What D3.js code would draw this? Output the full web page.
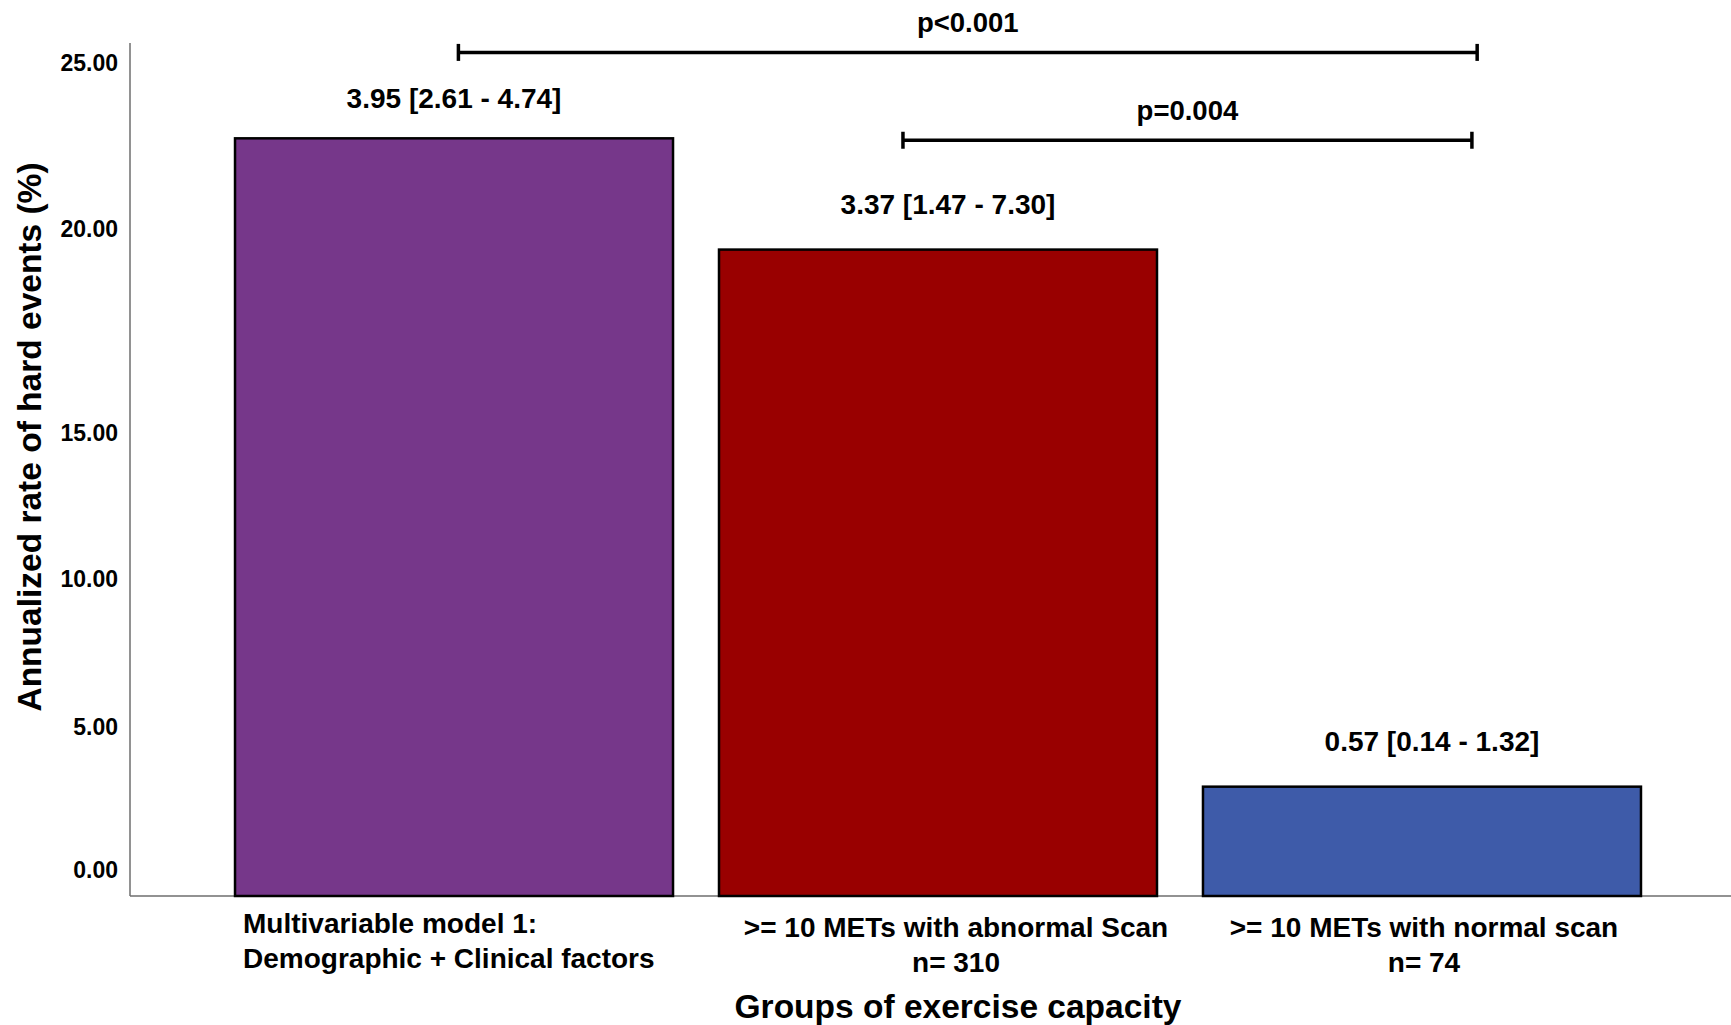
<!DOCTYPE html>
<html>
<head>
<meta charset="utf-8">
<script src="https://cdn.jsdelivr.net/npm/d3@7"></script>
<style>
  body { margin: 0; background: #fff; }
  text { font-family: "Liberation Sans", Arial, sans-serif; font-weight: bold; fill: #000; }
</style>
</head>
<body>
<script>
// data
var groupLines = [
  ["Multivariable model 1:", "Demographic + Clinical factors"],
  [">= 10 METs with abnormal Scan", "n= 310"],
  [">= 10 METs with normal scan", "n= 74"]
];
var rates = [3.95, 3.37, 0.57];
var ciLow = [2.61, 1.47, 0.14];
var ciHigh = [4.74, 7.30, 1.32];
var barColors = ["#76378a", "#990000", "#3e5ba9"];

// y tick labels and the rate value each one sits at
var tickLabels = ["0.00", "5.00", "10.00", "15.00", "20.00", "25.00"];
var tickAt = [0.136, 0.881, 1.653, 2.414, 3.478, 4.343];

var comparisons = [
  { from: 0, to: 2, label: "p<0.001" },
  { from: 1, to: 2, label: "p=0.004" }
];

var svgWidth = 1731;
var svgHeight = 1025;
var margin = { top: 43, right: -15, bottom: 129, left: 130 };
var width = svgWidth - margin.left - margin.right;
var height = svgHeight - margin.top - margin.bottom;

var svg = d3.select("body")
            .append("svg")
            .attr("width", svgWidth)
            .attr("height", svgHeight);

var chartGroup = svg.append("g")
                    .attr("transform", `translate(${margin.left}, ${margin.top})`);

var xScale = d3.scaleBand()
               .domain(d3.range(rates.length))
               .range([0, width])
               .paddingInner(0.095)
               .paddingOuter(0.217);

var yScale = d3.scaleLinear()
               .domain([0, 4.447])
               .range([height, 0]);

// axis lines (no tick marks)
chartGroup.append("line")
    .attr("x1", 0).attr("x2", 0)
    .attr("y1", 0).attr("y2", height)
    .attr("stroke", "#6e6e6e").attr("stroke-width", 1.5);

chartGroup.append("line")
    .attr("x1", 0).attr("x2", svgWidth)
    .attr("y1", height).attr("y2", height)
    .attr("stroke", "#6e6e6e").attr("stroke-width", 1.5);

chartGroup.selectAll(".ytick")
    .data(tickLabels)
    .enter()
    .append("text")
    .attr("class", "ytick")
    .attr("x", -12)
    .attr("y", (d, i) => yScale(tickAt[i]))
    .attr("dy", "0.36em")
    .attr("text-anchor", "end")
    .attr("font-size", 23)
    .text(d => d);

// bars
chartGroup.selectAll(".bar")
    .data(rates)
    .enter()
    .append("rect")
    .attr("class", "bar")
    .attr("x", (d, i) => xScale(i))
    .attr("y", d => yScale(d))
    .attr("width", xScale.bandwidth())
    .attr("height", d => height - yScale(d))
    .attr("fill", (d, i) => barColors[i])
    .attr("stroke", "#000")
    .attr("stroke-width", 2.5);

// value labels
chartGroup.selectAll(".vlabel")
    .data(rates)
    .enter()
    .append("text")
    .attr("class", "vlabel")
    .attr("x", (d, i) => xScale(i) + xScale.bandwidth() / 2 + (i === 0 ? 0 : 10))
    .attr("y", (d, i) => yScale(d) - (i === 0 ? 30 : 36))
    .attr("text-anchor", "middle")
    .attr("font-size", 28)
    .text((d, i) => `${d.toFixed(2)} [${ciLow[i].toFixed(2)} - ${ciHigh[i].toFixed(2)}]`);

// category labels under the axis
var catGroups = chartGroup.selectAll(".cat")
    .data(groupLines)
    .enter()
    .append("text")
    .attr("class", "cat")
    .attr("font-size", 28)
    .attr("text-anchor", (d, i) => i === 0 ? "start" : "middle")
    .attr("transform", (d, i) => {
        var cx = i === 0 ? xScale(i) + 8 : xScale(i) + xScale.bandwidth() / 2 + (i === 1 ? 18 : 2);
        return `translate(${cx}, ${height + (i === 0 ? 37 : 41)})`;
    });

catGroups.selectAll("tspan")
    .data(d => d)
    .enter()
    .append("tspan")
    .attr("x", 0)
    .attr("y", (d, j) => j * 35)
    .text(d => d);

// significance brackets
var bracketLayout = [
  { a: 0.51, b: 0.626, at: 4.398 },
  { a: 0.42, b: 0.614, at: 3.94 }
];

comparisons.forEach(function(c, k) {
    var lay = bracketLayout[k];
    var x1 = xScale(c.from) + lay.a * xScale.bandwidth();
    var x2 = xScale(c.to) + lay.b * xScale.bandwidth();
    var yy = yScale(lay.at);
    var g = chartGroup.append("g")
                      .attr("stroke", "#000")
                      .attr("stroke-width", 3.5);
    g.append("line").attr("x1", x1).attr("x2", x2).attr("y1", yy).attr("y2", yy);
    g.append("line").attr("x1", x1).attr("x2", x1).attr("y1", yy - 8.5).attr("y2", yy + 8.5);
    g.append("line").attr("x1", x2).attr("x2", x2).attr("y1", yy - 8.5).attr("y2", yy + 8.5);
    chartGroup.append("text")
        .attr("x", (x1 + x2) / 2)
        .attr("y", yy - 20)
        .attr("text-anchor", "middle")
        .attr("font-size", 27.5)
        .text(c.label);
});

// axis titles
svg.append("text")
    .attr("x", 958)
    .attr("y", 1018)
    .attr("text-anchor", "middle")
    .attr("font-size", 33.5)
    .text("Groups of exercise capacity");

svg.append("text")
    .attr("transform", "translate(41, 437) rotate(-90)")
    .attr("text-anchor", "middle")
    .attr("font-size", 33.5)
    .text("Annualized rate of hard events (%)");
</script>
</body>
</html>
